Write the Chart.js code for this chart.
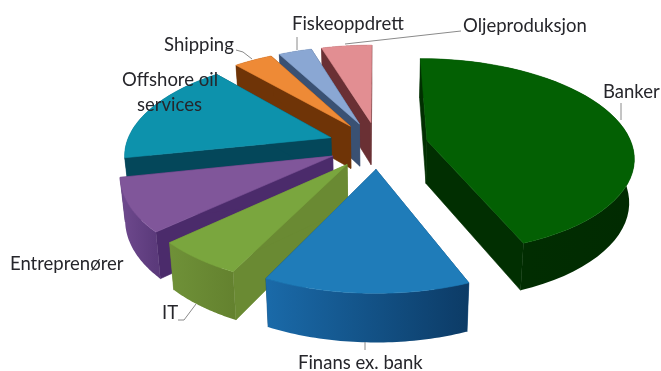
<!DOCTYPE html>
<html>
<head>
<meta charset="utf-8">
<style>
  html, body { margin: 0; padding: 0; background: #fff; }
  #chartPie { display: block; }
</style>
<script src="https://cdn.jsdelivr.net/npm/chart.js@4"></script>
</head>
<body>
<canvas id="chartPie" width="661" height="371"></canvas>
<script>
var categories = ["Banker", "Finans ex. bank", "IT", "Entreprenører", "Offshore oil services", "Shipping", "Fiskeoppdrett", "Oljeproduksjon"];
var shares = [43.9, 13.3, 5.8, 8.6, 16.9, 3.6, 3.1, 4.7];

var topColors = ["#036003", "#1f7cb9", "#7aa63e", "#80569a", "#0d92ac", "#ee8a36", "#8aa7d3", "#e28e92"];
var sideColors = ["#012f01", "#0f4a7c", "#6a8a33", "#4b2b6b", "#04475a", "#6f3407", "#3a5173", "#6a3034"];
var rimLeft = ["#012f01", "#1a6aa9", "#6f9138", "#6f4a8e", "#04475a", "#6f3407", "#3a5173", "#6a3034"];
var rimRight = ["#012b01", "#0c3b66", "#64822f", "#5b3a7b", "#04475a", "#6f3407", "#3a5173", "#6a3034"];

// perspective of the tilted pie: top face and bottom face are two planes
var view = { cx: 378, persp: 0.156, explode: 0.245 };
var topPlane = { cy: 145, q: 96, sx: 1 };
var bottomPlane = { cy: 188, q: 100, sx: 0.98 };

function project(px, py, radius, plane) {
  var w = 1 / (1 - view.persp * py);
  return { x: view.cx + px * radius * w * plane.sx, y: plane.cy + plane.q * py * w };
}

function fillPoly(ctx, pts, fill) {
  ctx.beginPath();
  pts.forEach(function (p, i) {
    if (i == 0) ctx.moveTo(p.x, p.y); else ctx.lineTo(p.x, p.y);
  });
  ctx.closePath();
  ctx.fillStyle = fill;
  ctx.fill();
  ctx.lineWidth = 0.6;
  ctx.strokeStyle = typeof fill == "string" ? fill : "rgba(0,0,0,0)";
  ctx.stroke();
}

function drawSlice(ctx, arc, i) {
  var mid = (arc.startAngle + arc.endAngle) / 2;
  var ox = Math.cos(mid) * view.explode;
  var oy = Math.sin(mid) * view.explode;
  var r = arc.outerRadius;

  var rimTop = [], rimBottom = [];
  for (var s = 0; s <= 48; s++) {
    var a = arc.startAngle + (arc.endAngle - arc.startAngle) * s / 48;
    rimTop.push(project(ox + Math.cos(a), oy + Math.sin(a), r, topPlane));
    rimBottom.push(project(ox + Math.cos(a), oy + Math.sin(a), r, bottomPlane));
  }
  var apexTop = project(ox, oy, r, topPlane);
  var apexBottom = project(ox, oy, r, bottomPlane);

  // radial walls
  fillPoly(ctx, [apexTop, rimTop[0], rimBottom[0], apexBottom], sideColors[i]);
  fillPoly(ctx, [apexTop, rimTop[48], rimBottom[48], apexBottom], sideColors[i]);

  // outer wall
  var minX = Math.min.apply(null, rimTop.map(function (p) { return p.x; }));
  var maxX = Math.max.apply(null, rimTop.map(function (p) { return p.x; }));
  var grad = ctx.createLinearGradient(minX, 0, maxX, 0);
  grad.addColorStop(0, rimLeft[i]);
  grad.addColorStop(1, rimRight[i]);
  fillPoly(ctx, rimTop.concat(rimBottom.slice().reverse()), grad);

  // top face
  fillPoly(ctx, [apexTop].concat(rimTop), topColors[i]);
}

var pie3d = {
  id: "pie3d",
  beforeDatasetDraw: function (chart, args) {
    var arcs = chart.getDatasetMeta(args.index).data;
    var order = arcs.map(function (arc, i) { return i; });
    // back slices first so the front ones cover them
    order.sort(function (a, b) {
      return Math.sin((arcs[a].startAngle + arcs[a].endAngle) / 2) - Math.sin((arcs[b].startAngle + arcs[b].endAngle) / 2);
    });
    order.forEach(function (i) { drawSlice(chart.ctx, arcs[i], i); });
    return false;
  }
};

var labelText = [
  { text: "Banker", x: 603, y: 92 },
  { text: "Finans ex. bank", x: 298, y: 363 },
  { text: "IT", x: 162, y: 313 },
  { text: "Entreprenører", x: 10, y: 264 },
  { text: "Offshore oil", x: 122, y: 80 },
  { text: "services", x: 137, y: 105 },
  { text: "Shipping", x: 164, y: 45 },
  { text: "Fiskeoppdrett", x: 292, y: 24 },
  { text: "Oljeproduksjon", x: 463, y: 26 }
];
var leaders = [
  [[621, 103], [621, 120]],
  [[365, 342], [365, 350]],
  [[178, 320], [184, 320], [196, 304]],
  [[236, 50], [243, 52], [252, 59]],
  [[297, 37], [297, 50]],
  [[461, 31], [345, 44]]
];

var pieLabels = {
  id: "pieLabels",
  afterDatasetsDraw: function (chart) {
    var ctx = chart.ctx;
    ctx.save();
    ctx.strokeStyle = "#8a8a8a";
    ctx.lineWidth = 1;
    leaders.forEach(function (line) {
      ctx.beginPath();
      line.forEach(function (p, i) {
        if (i == 0) ctx.moveTo(p[0], p[1]); else ctx.lineTo(p[0], p[1]);
      });
      ctx.stroke();
    });
    ctx.fillStyle = "#26262b";
    ctx.font = "18.5px Lato";
    ctx.textAlign = "left";
    ctx.textBaseline = "middle";
    labelText.forEach(function (l) { ctx.fillText(l.text, l.x, l.y); });
    ctx.restore();
  }
};

var ctxPie = document.getElementById("chartPie").getContext("2d");
var configPie = {
  type: "pie",
  data: {
    labels: categories,
    datasets: [{ data: shares, backgroundColor: topColors, borderWidth: 0 }]
  },
  options: {
    responsive: false,
    animation: false,
    radius: 205,
    plugins: { legend: { display: false }, tooltip: { enabled: false } }
  },
  plugins: [pie3d, pieLabels]
};
var chartPie = new Chart(ctxPie, configPie);
</script>
</body>
</html>
